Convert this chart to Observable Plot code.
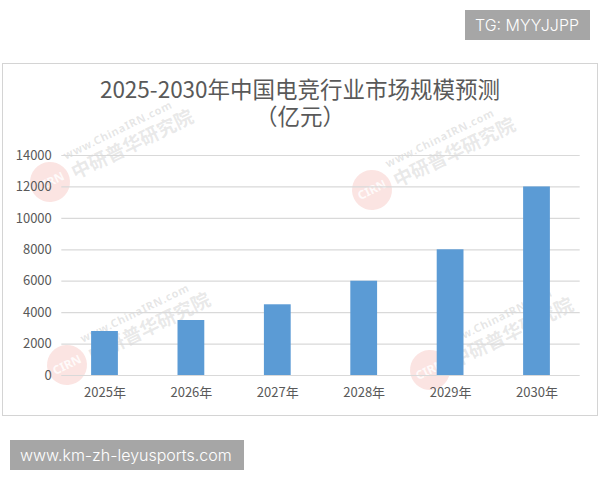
<!DOCTYPE html>
<html lang="zh">
<head>
<meta charset="utf-8">
<script src="https://cdn.jsdelivr.net/npm/d3@7"></script>
<script src="https://cdn.jsdelivr.net/npm/@observablehq/plot@0.6"></script>
<style>
html,body{margin:0;padding:0;background:#fff;width:600px;height:480px;overflow:hidden}
body{position:relative;font-family:"Noto Sans CJK SC","Noto Sans",sans-serif}
#frame{position:absolute;left:2px;top:63px;width:594px;height:351px;border:1px solid #d4d4d4;box-sizing:content-box}
#chart{position:absolute;left:0;top:0}
#title{position:absolute;left:0;width:600px;top:75px;text-align:center;font-size:22.5px;line-height:27px;color:#595959}
.badge{position:absolute;background:#a6a6a6;color:#fff;font-family:Inter,"Noto Sans",sans-serif;font-weight:300;box-sizing:border-box;white-space:nowrap}
#tg{left:465px;top:10px;width:125px;height:30px;font-size:16px;line-height:30px;padding-left:10px}
#site{left:10px;top:440px;width:234px;height:30px;font-size:16px;line-height:30px;padding-left:10px}
#wms{position:absolute;left:0;top:0;width:600px;height:480px;pointer-events:none}
.wm{position:absolute;width:0;height:0;transform:rotate(-26deg);white-space:nowrap;font-weight:700}
.wm .o{position:absolute;left:-20px;top:-20px;width:40px;height:40px;border-radius:50%;background:rgba(235,120,110,.2);color:rgba(255,255,255,.85);font:700 12px/40px "Noto Sans",sans-serif;text-align:center}
.wm .c{position:absolute;left:24px;top:-10px;font-size:19px;line-height:22px;color:rgba(140,140,140,.2)}
.wm .u{position:absolute;left:24px;top:-24px;font:700 11px/13px "Noto Sans",sans-serif;letter-spacing:.7px;color:rgba(140,140,140,.22)}
</style>
</head>
<body>
<div id="wms"></div>
<div id="frame"></div>
<div id="title">2025-2030年中国电竞行业市场规模预测<br>（亿元）</div>
<div id="chart"></div>
<div id="tg" class="badge">TG: MYYJJPP</div>
<div id="site" class="badge">www.km-zh-leyusports.com</div>
<script>
const years = ["2025年","2026年","2027年","2028年","2029年","2030年"];
const values = [2800,3500,4500,6000,8000,12000];
const yTicks = [0,2000,4000,6000,8000,10000,12000,14000];
const watermarkSpots = [[50,182],[372,190],[67,365],[430,370]];

const table = years.map((year,i)=>({year,value:values[i]}));

const wms = document.getElementById("wms");
for (const [x,y] of watermarkSpots) {
  const d = document.createElement("div");
  d.className = "wm";
  d.style.left = x + "px";
  d.style.top = y + "px";
  d.innerHTML = '<span class="o">CIRN</span><span class="u">www.ChinaIRN.com</span><span class="c">中研普华研究院</span>';
  wms.appendChild(d);
}

const chart = Plot.plot({
  width: 600,
  height: 480,
  marginTop: 155,
  marginBottom: 105,
  marginLeft: 61.3,
  marginRight: 20.3,
  style: {background:"transparent", fontFamily:'"Noto Sans CJK SC","Noto Sans",sans-serif', fontSize:"13px", color:"#595959"},
  x: {domain: years, paddingInner: 0.69, paddingOuter: 0.345, round: false, label: null},
  y: {domain: [0,14000], label: null},
  marks: [
    Plot.ruleY(yTicks, {stroke:"#d9d9d9", strokeWidth:1.2, strokeOpacity:1}),
    Plot.barY(table, {x:"year", y:"value", fill:"#5b9bd5"}),
    Plot.axisY({ticks:yTicks, tickSize:0, tickPadding:10, label:null, tickFormat:d=>String(d), fill:"#595959"}),
    Plot.axisX({tickSize:0, tickPadding:12, label:null, fill:"#595959"})
  ]
});
document.getElementById("chart").appendChild(chart);
</script>
</body>
</html>
